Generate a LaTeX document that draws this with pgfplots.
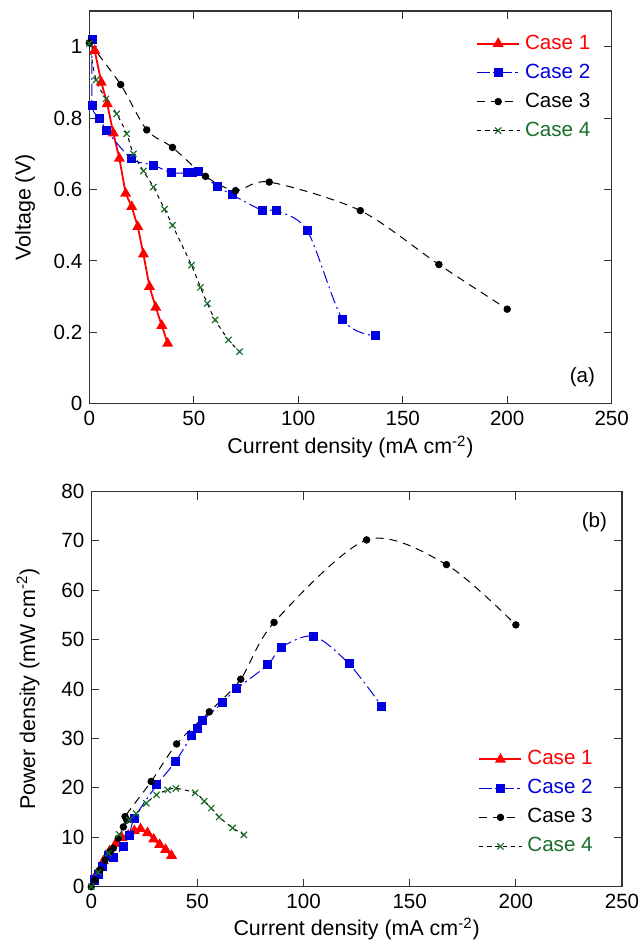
\documentclass[border=0pt]{standalone}
\usepackage{fontspec}
\setmainfont{Liberation Sans}
\usepackage{pgfplots}
\pgfplotsset{compat=1.18}
\definecolor{cgreen}{RGB}{25,110,40}
\definecolor{cblue}{RGB}{0,0,225}
\pgfplotsset{
  mystyle/.style={
    scale only axis,
    clip=false,
    axis line style={black!80, line width=0.6pt},
    tick align=inside,
    major tick length=4pt,
    tick style={black!80, line width=0.5pt},
    xmin=0, xmax=250, xtick={0,50,100,150,200,250},
    /pgf/number format/assume math mode=true,
    ticklabel style={font=\fontsize{10.3}{12}\selectfont},
    label style={font=\fontsize{10.7}{13}\selectfont},
    legend cell align=left,
    legend style={draw=none, fill=none, font=\fontsize{10.3}{12}\selectfont,
      row sep=3.1pt, inner sep=0pt,
      nodes={inner sep=1pt, text height=7.4pt, text depth=2pt}},
    legend image code/.code={\draw[mark repeat=2,mark phase=2] plot coordinates {(0pt,0pt) (10.5pt,0pt) (21pt,0pt)}; \path (22.5pt,0pt);},
  },
  c1/.style={red, line width=0.9pt, mark=triangle*, mark size=2.3pt, mark options={solid}},
  c2/.style={cblue, line width=0.5pt, smooth, dash pattern=on 6pt off 2pt on 1pt off 2pt, mark=square*, mark size=2pt, mark options={solid}},
  c3/.style={black, line width=0.5pt, smooth, dash pattern=on 4pt off 3pt, mark=*, mark size=1.6pt, mark options={solid}},
  c4/.style={black, line width=0.5pt, smooth, dash pattern=on 2pt off 2pt, mark=x, mark size=2.2pt, mark options={solid, cgreen, line width=0.6pt}},
}
\begin{document}
\begin{tikzpicture}
\path[use as bounding box] (0pt,0pt) rectangle (321.5pt,-471.5pt);
% ---------------- (a) ----------------
\begin{axis}[mystyle,
  at={(44.65pt,-5.5pt)}, anchor=north west,
  width=261.2pt, height=196.4pt,
  ymin=0, ymax=1.1, ytick={0,0.2,0.4,0.6,0.8,1},
  xlabel={Current density (mA cm\textsuperscript{-2})},
  ylabel={Voltage (V)},
  xlabel style={at={(axis description cs:0.5,-0.11)}, anchor=center},
  ylabel style={at={(axis description cs:-0.123,0.5)}, anchor=center},
  legend style={at={(axis description cs:0.740,0.947)}, anchor=north west},
]
\addplot[c1] coordinates {(2.6,0.989) (5.75,0.900) (8.6,0.840) (11.5,0.758) (14.4,0.687) (17.4,0.589) (20.3,0.552) (23.2,0.496) (25.9,0.419) (28.8,0.328) (31.8,0.270) (34.7,0.219) (37.5,0.169)};
\addplot[c2] coordinates {(1.4,1.019) (1.4,0.835) (5.1,0.800) (8.3,0.765) (20.3,0.686) (30.8,0.668) (39.3,0.647) (47.0,0.647) (49.5,0.647) (52.1,0.651) (61.2,0.609) (68.5,0.585) (82.7,0.542) (89.6,0.540) (104.3,0.485) (121.2,0.237) (136.9,0.190)};
\addplot[c3] coordinates {(0,1.011) (15.0,0.894) (27.5,0.767) (39.8,0.718) (55.6,0.637) (70.0,0.597) (86.1,0.621) (129.7,0.541) (167.3,0.390) (200.0,0.265)};
\addplot[c4] coordinates {(0,1.009) (3.2,0.907) (8.0,0.854) (13.1,0.812) (17.9,0.756) (21.1,0.700) (25.9,0.652) (30.7,0.607) (36.0,0.545) (39.8,0.500) (48.9,0.388) (53.2,0.326) (56.5,0.281) (60.2,0.235) (66.6,0.179) (71.9,0.146)};
\legend{\textcolor{red}{Case 1},\textcolor{cblue}{Case 2},\textcolor{black}{Case 3},\textcolor{cgreen}{Case 4}}
\node[anchor=center, font=\fontsize{10.3}{12}\selectfont] at (axis cs:236,0.075) {(a)};
\end{axis}
% ---------------- (b) ----------------
\begin{axis}[mystyle,
  at={(45.65pt,-245.75pt)}, anchor=north west,
  width=265.35pt, height=197.6pt,
  ymin=0, ymax=80, ytick={0,10,20,30,40,50,60,70,80},
  xlabel={Current density (mA cm\textsuperscript{-2})},
  ylabel={Power density (mW cm\textsuperscript{-2})},
  xlabel style={at={(axis description cs:0.5,-0.107)}, anchor=center},
  ylabel style={at={(axis description cs:-0.119,0.5)}, anchor=center},
  legend style={at={(axis description cs:0.729,0.352)}, anchor=north west},
]
\addplot[c1] coordinates {(2.6,2.6) (5.75,5.2) (8.6,7.2) (11.5,8.7) (14.4,9.9) (17.4,10.4) (20.3,11.3) (23.2,11.7) (26.5,10.9) (29.4,9.6) (32.2,8.5) (35.0,7.5) (37.8,6.3)};
\addplot[c2] coordinates {(1.4,1.4) (1.4,1.2) (3.3,2.4) (5.1,4.1) (8.3,6.3) (10.4,5.9) (15.1,8.1) (17.9,10.3) (20.3,13.9) (30.8,20.6) (39.6,25.3) (47.3,30.6) (49.9,32.1) (52.5,33.7) (61.7,37.2) (68.5,40.1) (83.1,44.9) (89.7,48.5) (104.8,50.7) (121.4,45.1) (136.9,36.5)};
\addplot[c3] coordinates {(0,0) (1.7,1.35) (4.1,3.4) (6.5,5.4) (8.8,7.1) (10.4,7.8) (12.7,9.8) (15.1,12.1) (16.7,13.5) (15.9,14.2) (28.2,21.3) (40.2,28.9) (55.6,35.4) (70.4,42.0) (86.1,53.5) (129.7,70.2) (167.3,65.2) (200,53.0)};
\addplot[c4] coordinates {(0,0) (3.2,2.9) (8.0,6.8) (13.1,10.6) (17.9,13.5) (21.1,14.8) (25.9,16.9) (30.7,18.6) (36.0,19.6) (39.8,19.9) (48.9,19.0) (53.2,17.3) (56.5,15.9) (60.2,14.1) (66.6,11.9) (71.9,10.5)};
\legend{\textcolor{red}{Case 1},\textcolor{cblue}{Case 2},\textcolor{black}{Case 3},\textcolor{cgreen}{Case 4}}
\node[anchor=center, font=\fontsize{10.3}{12}\selectfont] at (axis cs:237,73.8) {(b)};
\end{axis}
\end{tikzpicture}
\end{document}
